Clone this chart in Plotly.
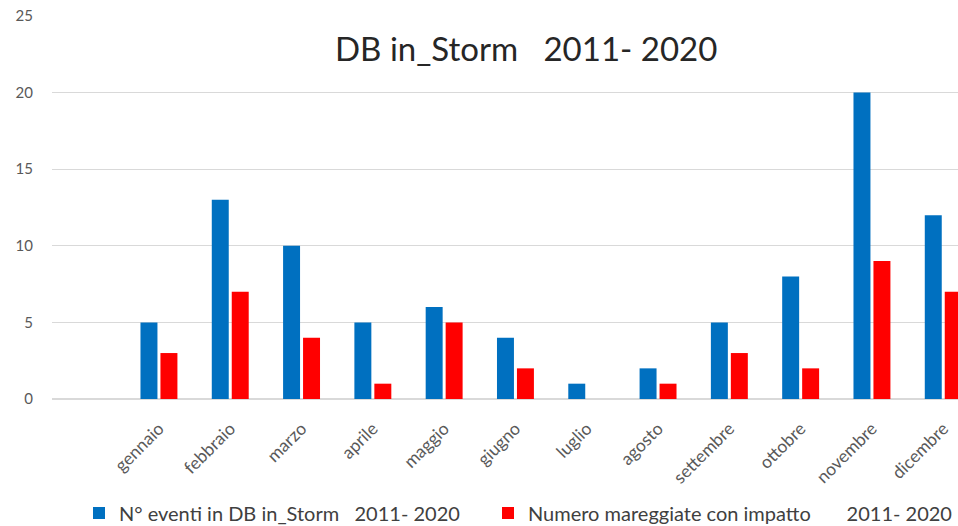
import plotly.graph_objects as go

months = ["gennaio", "febbraio", "marzo", "aprile", "maggio", "giugno",
          "luglio", "agosto", "settembre", "ottobre", "novembre", "dicembre"]
eventi = [5, 13, 10, 5, 6, 4, 1, 2, 5, 8, 20, 12]
mareggiate = [3, 7, 4, 1, 5, 2, 0, 1, 3, 2, 9, 7]

name1 = "N° eventi in DB in_Storm\u00a0\u00a0\u00a02011- 2020"
name2 = "Numero mareggiate con impatto" + "\u00a0" * 7 + "2011- 2020"
title = "DB in_Storm\u00a0\u00a0\u00a02011- 2020"

FONT = "Lato, 'Open Sans', sans-serif"

fig = go.Figure()
fig.add_trace(go.Bar(x=months, y=eventi, name=name1, marker_color="#0070C0",
                     marker_line_width=0, legend="legend"))
fig.add_trace(go.Bar(x=months, y=mareggiate, name=name2, marker_color="#FF0000",
                     marker_line_width=0, legend="legend2"))

W, H = 958, 526
L, T, B = 52, 16, 127
PW, PH = W - L, 399 - T

leg_common = dict(orientation="h", xanchor="left", yref="container",
                  y=1 - 513 / H, yanchor="middle",
                  font=dict(size=20, color="#404040"), itemwidth=30,
                  bgcolor="rgba(0,0,0,0)")

fig.update_layout(
    width=W, height=H,
    margin=dict(l=L, r=0, t=T, b=B, autoexpand=False),
    paper_bgcolor="white", plot_bgcolor="white",
    barmode="group", bargap=0.44, bargroupgap=0.15,
    font=dict(family=FONT, color="#595959", size=14),
    showlegend=True,
    legend=dict(x=(79 - L) / PW, **leg_common),
    legend2=dict(x=(488 - L) / PW, **leg_common),
    xaxis=dict(type="category", categoryorder="array", categoryarray=months,
               range=[-1.5, -1.5 + PW / 71.3],
               tickangle=-45, showgrid=False, showline=False, ticks="",
               ticklabelstandoff=15,
               tickfont=dict(size=17.5, color="#595959")),
    yaxis=dict(range=[0, 25], dtick=5, showgrid=True, gridcolor="#D9D9D9",
               gridwidth=1, zeroline=True, zerolinecolor="#D9D9D9",
               showline=False, ticks="", ticklabelstandoff=18,
               tickfont=dict(size=15, color="#595959")),
    annotations=[dict(text=title, x=(526 - L) / PW, y=(399 - 48) / PH,
                      xref="paper", yref="paper", showarrow=False,
                      xanchor="center", yanchor="middle",
                      font=dict(size=33, color="#262626", family=FONT))],
)

fig.write_html("out.html")
